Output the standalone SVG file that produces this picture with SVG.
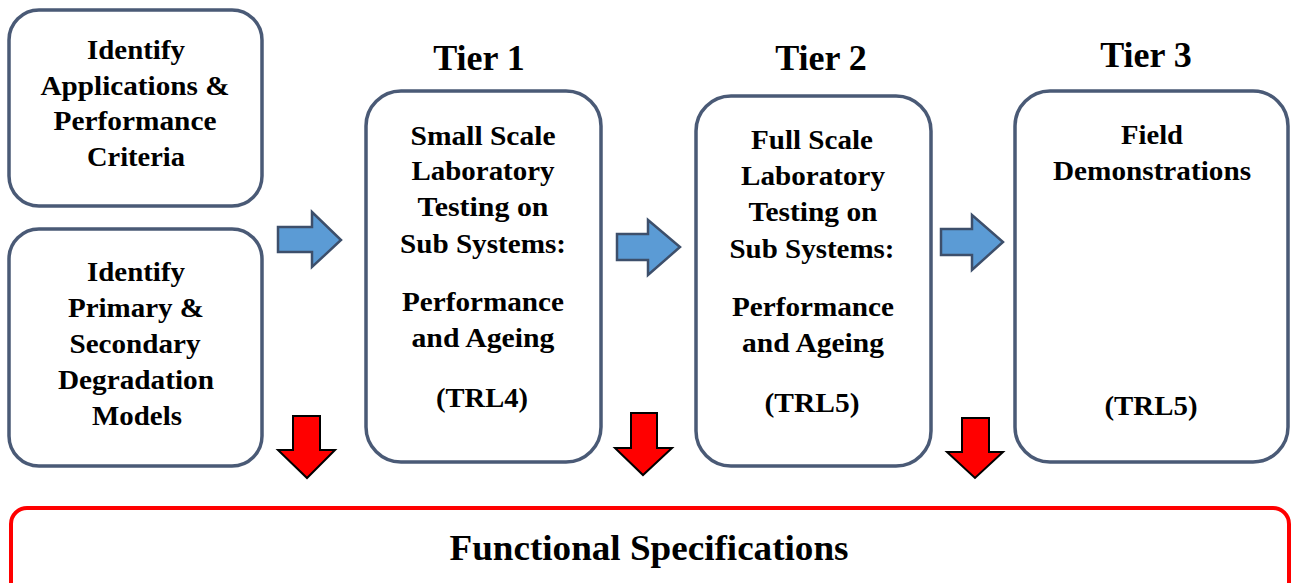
<svg xmlns="http://www.w3.org/2000/svg" width="1293" height="583" viewBox="0 0 1293 583">
<style>
.box{fill:#fff;stroke:#4a5a76;stroke-width:3.5}
.t{font-family:"Liberation Serif","Times New Roman",serif;font-weight:bold;font-size:28px;text-anchor:middle;fill:#000}
.title{font-family:"Liberation Serif","Times New Roman",serif;font-weight:bold;font-size:36px;text-anchor:middle;fill:#000}
.ba{fill:#5b9bd5;stroke:#3d4f6b;stroke-width:2.5;stroke-linejoin:miter}
.ra{fill:#ff0000;stroke:#000;stroke-width:2;stroke-linejoin:miter}
</style>
<rect width="1293" height="583" fill="#fff"/>
<g id="node-apps">
<rect class="box" x="9" y="10" width="253" height="196" rx="30"/>
<text class="t" x="136" y="59" textLength="98" lengthAdjust="spacingAndGlyphs">Identify</text>
<text class="t" x="135" y="95" textLength="189" lengthAdjust="spacingAndGlyphs">Applications &amp;</text>
<text class="t" x="135" y="130" textLength="163" lengthAdjust="spacingAndGlyphs">Performance</text>
<text class="t" x="136" y="166" textLength="98" lengthAdjust="spacingAndGlyphs">Criteria</text>
</g>
<g id="node-models">
<rect class="box" x="9" y="229" width="253" height="237" rx="30"/>
<text class="t" x="136" y="281" textLength="98" lengthAdjust="spacingAndGlyphs">Identify</text>
<text class="t" x="136" y="317" textLength="136" lengthAdjust="spacingAndGlyphs">Primary &amp;</text>
<text class="t" x="135" y="353" textLength="131" lengthAdjust="spacingAndGlyphs">Secondary</text>
<text class="t" x="136" y="389" textLength="156" lengthAdjust="spacingAndGlyphs">Degradation</text>
<text class="t" x="137" y="425" textLength="90" lengthAdjust="spacingAndGlyphs">Models</text>
</g>
<g id="node-tier1">
<text class="title" x="479" y="70">Tier 1</text>
<rect class="box" x="366" y="91" width="235" height="371" rx="35"/>
<text class="t" x="483" y="145" textLength="145" lengthAdjust="spacingAndGlyphs">Small Scale</text>
<text class="t" x="483" y="180" textLength="143" lengthAdjust="spacingAndGlyphs">Laboratory</text>
<text class="t" x="483" y="216" textLength="131" lengthAdjust="spacingAndGlyphs">Testing on</text>
<text class="t" x="483" y="253" textLength="166" lengthAdjust="spacingAndGlyphs">Sub Systems:</text>
<text class="t" x="483" y="311" textLength="162" lengthAdjust="spacingAndGlyphs">Performance</text>
<text class="t" x="483" y="347" textLength="143" lengthAdjust="spacingAndGlyphs">and Ageing</text>
<text class="t" x="482" y="407" textLength="92" lengthAdjust="spacingAndGlyphs">(TRL4)</text>
</g>
<g id="node-tier2">
<text class="title" x="821" y="70">Tier 2</text>
<rect class="box" x="696" y="96" width="235" height="370" rx="35"/>
<text class="t" x="812" y="149" textLength="122" lengthAdjust="spacingAndGlyphs">Full Scale</text>
<text class="t" x="813" y="185" textLength="144" lengthAdjust="spacingAndGlyphs">Laboratory</text>
<text class="t" x="813" y="221" textLength="129" lengthAdjust="spacingAndGlyphs">Testing on</text>
<text class="t" x="812" y="258" textLength="165" lengthAdjust="spacingAndGlyphs">Sub Systems:</text>
<text class="t" x="813" y="316" textLength="162" lengthAdjust="spacingAndGlyphs">Performance</text>
<text class="t" x="813" y="352" textLength="142" lengthAdjust="spacingAndGlyphs">and Ageing</text>
<text class="t" x="812" y="412" textLength="95" lengthAdjust="spacingAndGlyphs">(TRL5)</text>
</g>
<g id="node-tier3">
<text class="title" x="1146" y="67">Tier 3</text>
<rect class="box" x="1015" y="91" width="273" height="371" rx="35"/>
<text class="t" x="1152" y="144" textLength="62" lengthAdjust="spacingAndGlyphs">Field</text>
<text class="t" x="1152" y="180" textLength="198" lengthAdjust="spacingAndGlyphs">Demonstrations</text>
<text class="t" x="1151" y="415" textLength="93" lengthAdjust="spacingAndGlyphs">(TRL5)</text>
</g>
<g id="node-spec">
<rect x="11" y="508" width="1278" height="95" rx="16" fill="#fff" stroke="#ff0000" stroke-width="4"/>
<text class="title" x="649" y="560" textLength="399" lengthAdjust="spacingAndGlyphs">Functional Specifications</text>
</g>
<g id="connectors">
<polygon class="ba" points="278,227 312,227 312,212 341,240 312,267 312,252 278,252"/>
<polygon class="ba" points="617,234 648,234 648,220 680,247 648,275 648,260 617,260"/>
<polygon class="ba" points="941,229 972,229 972,215 1003,242 972,270 972,255 941,255"/>
<polygon class="ra" points="293,416 320,416 320,450 335,450 307,478 278,450 293,450"/>
<polygon class="ra" points="631,413 657,413 657,448 672,448 643,475 615,448 631,448"/>
<polygon class="ra" points="962,418 989,418 989,452 1003,452 975,478 947,452 962,452"/>
</g>
</svg>
